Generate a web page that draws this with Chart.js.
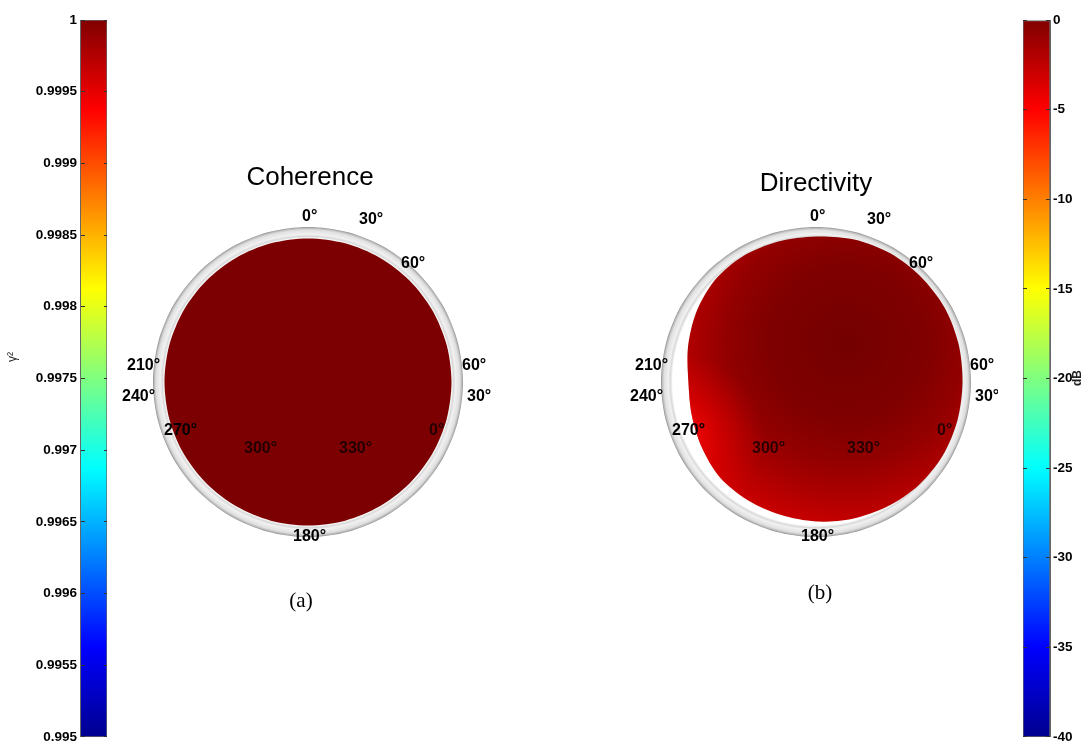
<!DOCTYPE html>
<html>
<head>
<meta charset="utf-8">
<script src="https://cdn.jsdelivr.net/npm/chart.js@4.4.0/dist/chart.umd.min.js"></script>
<style>
  body { margin: 0; background: #fff; width: 1091px; height: 748px; position: relative; overflow: hidden; }
  canvas { position: absolute; }
</style>
</head>
<body>
<canvas id="sphereA" width="420" height="500" style="left:100px;top:130px"></canvas>
<canvas id="sphereB" width="390" height="500" style="left:608px;top:130px"></canvas>
<canvas id="barCoh" width="115" height="748" style="left:0;top:0"></canvas>
<canvas id="barDb" width="96" height="748" style="left:995px;top:0"></canvas>
<script>
// colorbar ranges and tick labels
const coherenceTicks = [1, 0.9995, 0.999, 0.9985, 0.998, 0.9975, 0.997, 0.9965, 0.996, 0.9955, 0.995];
const dbTicks = [0, -5, -10, -15, -20, -25, -30, -35, -40];

// projected sphere outline, radius per azimuth (1 = coherence disc)
const azimuths = [0, 15, 30, 45, 60, 75, 90, 105, 120, 135, 150, 165, 180, 195, 210, 225, 240, 255, 270, 285, 300, 315, 330, 345];
const coherenceRadius = [1, 1, 1, 1, 1, 1, 1, 1, 1, 1, 1, 1, 1, 1, 1, 1, 1, 1, 1, 1, 1, 1, 1, 1];
const directivityRadius = [1.014, 1.028, 1.035, 1.035, 1.035, 1.028, 1.021, 1.021, 1.021, 1.014, 1.0, 0.986,
  0.972, 0.958, 0.951, 0.944, 0.917, 0.896, 0.889, 0.924, 0.965, 1.0, 1.014, 1.014];
const rimRadius = [1.08, 1.08, 1.08, 1.08, 1.08, 1.08, 1.08, 1.08, 1.08, 1.08, 1.08, 1.08,
  1.08, 1.08, 1.08, 1.08, 1.08, 1.08, 1.08, 1.08, 1.08, 1.08, 1.08, 1.08];

const angleLabels = ['0', '30', '60', '210', '240', '270', '300', '330', '0', '60', '30', '180'];
// where each label sits, px from sphere centre, and whether it is seen through the surface
const labelSpots = [[-6, -165, 0], [51, -162, 0], [93, -118, 0], [-181, -16, 0], [-186, 15, 0], [-144, 49, 0],
  [-64, 67, 1], [31, 67, 1], [121, 49, 1], [154, -16, 0], [159, 15, 0], [-15, 155, 0]];

const jet = [[0, '#00008f'], [0.125, '#0000ff'], [0.375, '#00ffff'], [0.625, '#ffff00'], [0.875, '#ff0000'], [1, '#800000']];
const SANS = '"Liberation Sans", Arial, sans-serif';

function jetFill(c) {
  const a = c.chart.chartArea;
  if (!a) return '#800000';
  const g = c.chart.ctx.createLinearGradient(0, a.bottom, 0, a.top);
  jet.forEach(([o, col]) => g.addColorStop(o, col));
  return g;
}

const axisNote = {
  id: 'axisNote',
  afterDraw(chart, args, o) {
    const ctx = chart.ctx;
    ctx.save();
    ctx.translate(o.x, o.y);
    ctx.rotate(-Math.PI / 2);
    ctx.font = o.font;
    ctx.fillStyle = '#222';
    ctx.textAlign = 'center';
    ctx.textBaseline = 'middle';
    ctx.fillText(o.text, 0, 0);
    ctx.restore();
  }
};

function colorbar(id, min, max, ticks, side, width, pad, note) {
  return new Chart(document.getElementById(id), {
    type: 'bar',
    data: { labels: ['c'], datasets: [{ data: [[min, max]], backgroundColor: jetFill, borderColor: '#666', borderWidth: 1, borderSkipped: false, barPercentage: 1, categoryPercentage: 1 }] },
    options: {
      responsive: false, animation: false,
      layout: { padding: pad },
      plugins: { legend: { display: false }, tooltip: { enabled: false }, axisNote: note },
      scales: {
        x: { display: false },
        y: {
          position: side, min, max,
          afterFit: s => { s.width = width; },
          afterBuildTicks: s => { s.ticks = ticks.map(v => ({ value: v })); },
          grid: { color: '#333', drawTicks: false, z: 1 },
          border: { color: '#666', dash: [4, 19], z: 1 },
          ticks: { color: '#000', padding: 3, font: { family: SANS, size: 13.5, weight: 'bold' }, callback: v => String(v) }
        }
      }
    },
    plugins: [axisNote]
  });
}

colorbar('barCoh', 0.995, 1, coherenceTicks, 'left', 80, { top: 20, bottom: 7, left: 0, right: 8 },
  { text: 'γ²', x: 13, y: 357, font: '12px ' + SANS });
colorbar('barDb', -40, 0, dbTicks, 'right', 41, { top: 20, bottom: 7, left: 28, right: 0 },
  { text: 'dB', x: 83, y: 378, font: 'bold 12px ' + SANS });

function radial(c, dx, dy, R, stops, fallback) {
  const r = c.chart.scales.r;
  if (!r || !r.drawingArea) return fallback;
  const x = r.xCenter + dx, y = r.yCenter + dy;
  const g = c.chart.ctx.createRadialGradient(x, y, 0, x, y, R || r.getDistanceFromCenterForValue(1.08));
  stops.forEach(([o, col]) => g.addColorStop(o, col));
  return g;
}

const rimFill = c => radial(c, 0, 0, 0,
  [[0, '#fff'], [0.925, '#fff'], [0.94, '#d9d9d9'], [0.952, '#f1f1f1'], [0.98, '#e0e0e0'], [0.993, '#b8b8b8'], [1, '#8a8a8a']], '#eee');
const directivityFill = c => radial(c, 30, -40, 200,
  [[0, '#740000'], [0.4, '#800000'], [0.6, '#930000'], [0.75, '#aa0000'], [0.9, '#c40000'], [1, '#d60000']], '#a00000');
const directivityGlow = c => radial(c, -138, 55, 85,
  [[0, 'rgba(255,15,15,0.9)'], [0.5, 'rgba(240,0,0,0.45)'], [1, 'rgba(220,0,0,0)']], 'rgba(0,0,0,0)');

const sphereText = {
  id: 'sphereText',
  afterDatasetsDraw(chart, args, o) {
    const r = chart.scales.r, ctx = chart.ctx;
    const cx = r.xCenter, cy = r.yCenter;
    ctx.save();
    ctx.textAlign = 'left';
    ctx.textBaseline = 'middle';
    ctx.font = 'bold 16px ' + SANS;
    angleLabels.forEach((t, i) => {
      const [dx, dy, seen] = labelSpots[i];
      ctx.fillStyle = seen ? 'rgba(0,0,0,0.72)' : '#000';
      ctx.fillText(t + '°', cx + dx, cy + dy);
    });
    ctx.fillStyle = '#000';
    ctx.textAlign = 'center';
    ctx.textBaseline = 'alphabetic';
    ctx.font = '26px ' + SANS;
    ctx.fillText(o.title, cx + o.titleAt[0], cy + o.titleAt[1]);
    ctx.font = '21px "Liberation Serif", "Times New Roman", serif';
    ctx.fillText(o.caption, cx + o.captionAt[0], cy + o.captionAt[1]);
    ctx.restore();
  }
};

const surface = (data, fill) => ({ data, backgroundColor: fill, fill: 'origin', borderWidth: 0, pointRadius: 0, tension: 0.3 });

function sphere(id, layers, text) {
  return new Chart(document.getElementById(id), {
    type: 'radar',
    data: { labels: azimuths, datasets: layers.concat([surface(rimRadius, rimFill)]) },
    options: {
      responsive: false, animation: false,
      layout: { padding: { left: 53, top: 97, right: id === 'sphereA' ? 56 : 26, bottom: 92 } },
      plugins: { legend: { display: false }, tooltip: { enabled: false }, sphereText: text },
      scales: {
        r: {
          min: 0, max: 1.08, startAngle: 0,
          grid: { display: false }, angleLines: { display: false },
          ticks: { display: false }, pointLabels: { display: false }
        }
      }
    },
    plugins: [sphereText]
  });
}

sphere('sphereA', [surface(coherenceRadius, '#7c0002')],
  { title: 'Coherence', titleAt: [2, -197], caption: '(a)', captionAt: [-7, 225] });
sphere('sphereB', [surface(directivityRadius, directivityGlow), surface(directivityRadius, directivityFill)],
  { title: 'Directivity', titleAt: [0, -191], caption: '(b)', captionAt: [4, 217] });
</script>
</body>
</html>
